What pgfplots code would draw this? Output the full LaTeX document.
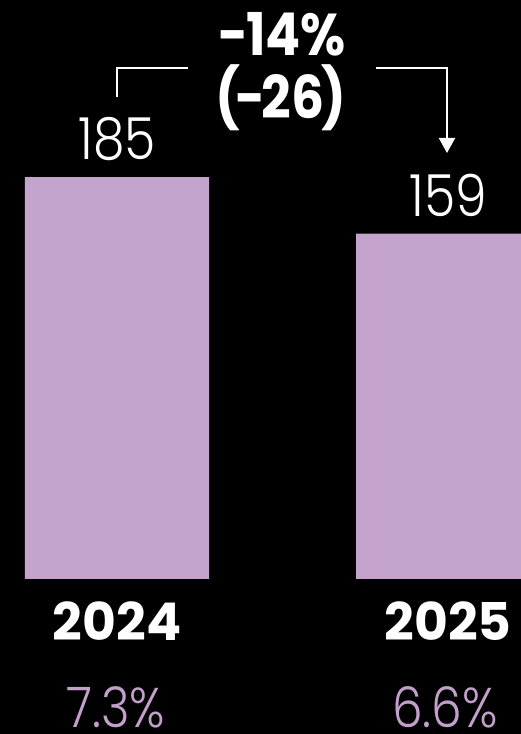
\documentclass[border=0pt]{standalone}
\usepackage{pgfplots}
\pgfplotsset{compat=1.18}
\usetikzlibrary{arrows.meta}
\usepackage{fontspec}
\setmainfont{Poppins}
\newfontfamily\lightfont{Poppins Light}[FakeStretch=0.87]
\newfontfamily\heavyfont{Poppins Bold}
\newfontfamily\narrowheavy{Poppins Bold}[FakeStretch=0.88]
\definecolor{lilac}{HTML}{C4A3CD}
\definecolor{lilactext}{HTML}{C3A0CB}
\begin{document}
\begin{tikzpicture}[x=1pt,y=1pt]
% frame is the 521 x 734 picture, 1pt per pixel
\path[use as bounding box, fill=black] (0,0) rectangle (521,734);
\clip (0,0) rectangle (521,734);
\begin{axis}[
  at={(0pt,155pt)}, anchor=south west,
  scale only axis, width=521pt, height=579pt,
  xmin=-0.35347, xmax=1.22054, ymin=0, ymax=266.46,
  ybar, bar width=184pt,
  axis line style={draw=none}, tick style={draw=none},
  ytick=\empty, xtick={0,1}, xticklabels={2024,2025},
  xticklabel style={font=\heavyfont\fontsize{52}{52}\selectfont, text=white,
                    anchor=center, yshift=-38pt},
  nodes near coords={\pgfmathprintnumber[assume math mode=true]{\pgfplotspointmeta}},
  nodes near coords style={font=\lightfont\fontsize{58}{58}\selectfont, text=white,
                           anchor=center, yshift=38pt},
  clip=false,
]
\addplot[fill=lilac, draw=none] coordinates {(0,185) (1,159)};
\end{axis}
% change annotation
\node[font=\narrowheavy\fontsize{59}{59}\selectfont, text=white] at (282,700) {-\kern-2pt14\%};
\node[font=\narrowheavy\fontsize{59}{59}\selectfont, text=white] at (281,636) {(\kern-5pt-\kern-4pt26\kern-3pt)};
\draw[white, line width=2pt] (117,637) -- (117,666) -- (188,666);
\draw[white, line width=2pt, -{Triangle[length=15pt, width=16pt]}] (376,666) -- (447,666) -- (447,581);
% share labels
\node[font=\lightfont\fontsize{56}{56}\selectfont, text=lilactext, inner sep=0pt,
      text depth=0pt, anchor=base] at (116,6) {7.3\%};
\node[font=\lightfont\fontsize{56}{56}\selectfont, text=lilactext, inner sep=0pt,
      text depth=0pt, anchor=base] at (445,6) {6.6\%};
\end{tikzpicture}
\end{document}
